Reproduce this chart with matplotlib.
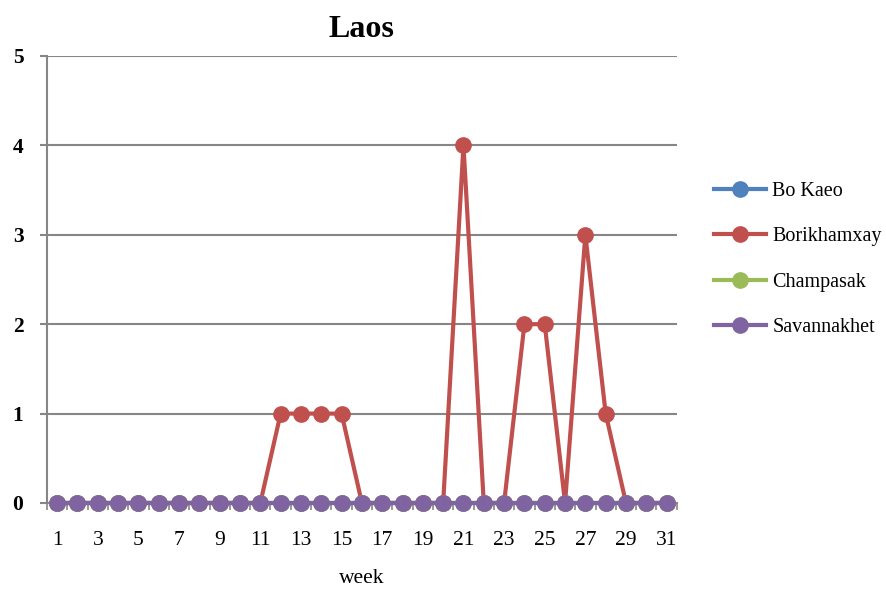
import matplotlib
matplotlib.use("Agg")
import matplotlib.pyplot as plt
import numpy as np

weeks = list(range(1, 32))
bo_kaeo = [0] * 31
borikhamxay = [0, 0, 0, 0, 0, 0, 0, 0, 0, 0, 0, 1, 1, 1, 1, 0, 0, 0, 0, 0,
               4, 0, 0, 2, 2, 0, 3, 1, 0, 0, 0]
champasak = [0] * 31
savannakhet = [0] * 31
series_names = ["Bo Kaeo", "Borikhamxay", "Champasak", "Savannakhet"]
colors = ["#4F81BD", "#C0504D", "#9BBB59", "#8064A2"]
xtick_labels = [str(w) for w in weeks[::2]]

plt.rcParams['font.family'] = ['Liberation Serif', 'DejaVu Serif']

fig = plt.figure(figsize=(8.87, 5.93), dpi=100)
ax = fig.add_axes([0.053, 0.1518, 0.710, 0.7538])

for name, vals, c in zip(series_names, [bo_kaeo, borikhamxay, champasak, savannakhet], colors):
    ax.plot(weeks, vals, color=c, lw=3.0, marker='o', ms=11, label=name, zorder=3, clip_on=False)

ax.set_xlim(0.5, 31.5)
ax.set_ylim(0, 5)
ax.set_yticks(range(0, 6))
ax.set_yticklabels([str(i) for i in range(0, 6)], fontweight='bold', fontsize=15.5)
ax.set_xticks(weeks[::2])
ax.set_xticklabels(xtick_labels, fontsize=15.5)
ax.set_xticks(np.arange(0.5, 32, 1), minor=True)
ax.tick_params(axis='x', which='major', length=0, pad=20)
ax.tick_params(axis='x', which='minor', length=5, color='#868686', width=1.2, direction='out')
ax.tick_params(axis='y', length=5, color='#868686', width=1.5, pad=12)
ax.grid(axis='y', color='#868686', lw=1.5, zorder=0)
for s in ['top', 'right']:
    ax.spines[s].set_visible(False)
for s in ['left', 'bottom']:
    ax.spines[s].set_color('#868686')
    ax.spines[s].set_linewidth(1.5)

ax.set_title("Laos", fontsize=23, fontweight='bold', pad=14)
ax.set_xlabel("week", fontsize=15.5, labelpad=14)

leg = ax.legend(loc='center left', bbox_to_anchor=(1.03, 0.545), frameon=False,
                fontsize=14.5, labelspacing=1.3, handlelength=2.6, handletextpad=0.3)

fig.savefig("out.png", dpi=100)
